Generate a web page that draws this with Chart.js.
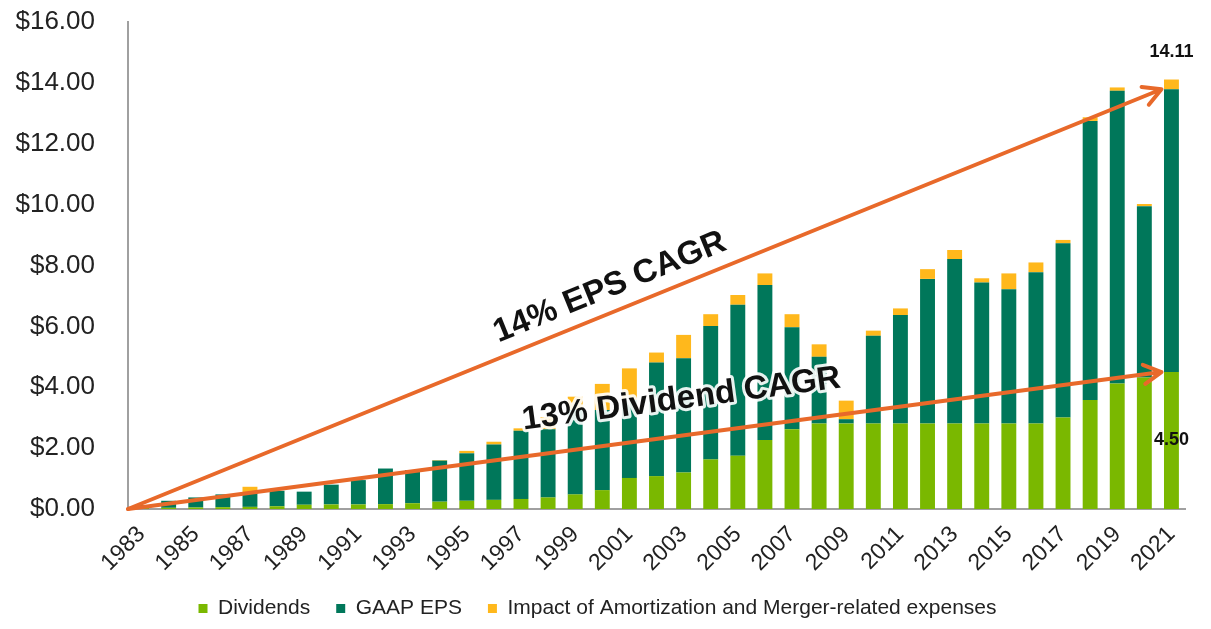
<!DOCTYPE html>
<html>
<head>
<meta charset="utf-8">
<script src="https://cdn.jsdelivr.net/npm/chart.js@4.4.1/dist/chart.umd.min.js"></script>
<style>
  body { margin: 0; background: #fff; }
  #wrap { width: 1211px; height: 629px; }
</style>
</head>
<body>
<div id="wrap"><canvas id="chart"></canvas></div>
<script>
// values ($ per share)
const years = ['1983', '1984', '1985', '1986', '1987', '1988', '1989', '1990', '1991', '1992',
    '1993', '1994', '1995', '1996', '1997', '1998', '1999', '2000', '2001', '2002',
    '2003', '2004', '2005', '2006', '2007', '2008', '2009', '2010', '2011', '2012',
    '2013', '2014', '2015', '2016', '2017', '2018', '2019', '2020', '2021'];

const dividends = [0.03, 0.04, 0.05, 0.06, 0.07, 0.09, 0.14, 0.15, 0.15, 0.16,
    0.19, 0.24, 0.27, 0.30, 0.33, 0.38, 0.48, 0.62, 1.02, 1.08,
    1.20, 1.63, 1.75, 2.27, 2.62, 2.81, 2.81, 2.81, 2.81, 2.81,
    2.81, 2.81, 2.81, 2.81, 3.01, 3.58, 4.12, 4.32, 4.50];

// GAAP EPS (top of the dark green part)
const gaapEps = [0.13, 0.27, 0.38, 0.48, 0.55, 0.60, 0.57, 0.80, 0.95, 1.33,
    1.28, 1.59, 1.83, 2.12, 2.57, 2.62, 3.25, 3.25, 3.58, 4.81,
    4.95, 6.01, 6.71, 7.36, 5.97, 5.00, 2.95, 5.69, 6.37, 7.56,
    8.21, 7.44, 7.22, 7.78, 8.73, 12.75, 13.74, 9.95, 13.79];

// Impact of amortization and merger-related expenses
const impact = [0, 0, 0, 0, 0.18, 0, 0, 0, 0, 0,
    0, 0.02, 0.08, 0.09, 0.08, 0.40, 0.44, 0.86, 1.04, 0.33,
    0.77, 0.39, 0.32, 0.38, 0.43, 0.41, 0.61, 0.17, 0.22, 0.32,
    0.30, 0.14, 0.52, 0.32, 0.11, 0.12, 0.11, 0.07, 0.32];

const epsCagrText = '14% EPS CAGR';
const divCagrText = '13% Dividend CAGR';

const green = '#7ab800';
const darkGreen = '#00775a';
const gold = '#ffb81c';
const orange = '#e8692a';
const fontFamily = '"Liberation Sans", Arial, sans-serif';

function drawArrow(ctx, x0, y0, x1, y1) {
    const a = Math.atan2(y1 - y0, x1 - x0);
    const head = 20;
    ctx.save();
    ctx.strokeStyle = orange;
    ctx.lineWidth = 4;
    ctx.lineCap = 'round';
    ctx.lineJoin = 'round';
    ctx.beginPath();
    ctx.moveTo(x0, y0);
    ctx.lineTo(x1, y1);
    ctx.moveTo(x1 - head * Math.cos(a - 0.5), y1 - head * Math.sin(a - 0.5));
    ctx.lineTo(x1, y1);
    ctx.lineTo(x1 - head * Math.cos(a + 0.5), y1 - head * Math.sin(a + 0.5));
    ctx.stroke();
    ctx.restore();
}

function textOnLine(ctx, text, x0, y0, x1, y1, t, offset) {
    const a = Math.atan2(y1 - y0, x1 - x0);
    const cx = x0 + (x1 - x0) * t + Math.sin(a) * offset;
    const cy = y0 + (y1 - y0) * t - Math.cos(a) * offset;
    ctx.save();
    ctx.translate(cx, cy);
    ctx.rotate(a);
    ctx.font = 'bold 33px ' + fontFamily;
    ctx.textAlign = 'center';
    ctx.textBaseline = 'middle';
    ctx.lineJoin = 'round';
    ctx.strokeStyle = 'rgba(255,255,255,0.9)';
    ctx.lineWidth = 6;
    ctx.strokeText(text, 0, 0);
    ctx.fillStyle = '#111';
    ctx.fillText(text, 0, 0);
    ctx.restore();
}

const annotations = {
    id: 'annotations',
    afterDatasetsDraw(chart) {
        const { ctx, chartArea, scales: { x, y } } = chart;
        const last = years.length - 1;
        const x0 = chartArea.left;
        const y0 = y.getPixelForValue(0);
        const xEnd = x.getPixelForValue(last) - 10;
        const yEps = y.getPixelForValue(gaapEps[last]);
        const yDiv = y.getPixelForValue(dividends[last]);

        drawArrow(ctx, x0, y0, xEnd, yEps);
        drawArrow(ctx, x0, y0, xEnd, yDiv);
        textOnLine(ctx, epsCagrText, x0, y0, xEnd, yEps, 0.475, 24);
        textOnLine(ctx, divCagrText, x0, y0, xEnd, yDiv, 0.54, 36);

        // value labels on the last bar
        const xl = x.getPixelForValue(last);
        const total = gaapEps[last] + impact[last];
        ctx.save();
        ctx.font = 'bold 18px ' + fontFamily;
        ctx.fillStyle = '#111';
        ctx.textAlign = 'center';
        ctx.textBaseline = 'middle';
        ctx.fillText(total.toFixed(2), xl, y.getPixelForValue(total) - 27);
        ctx.fillText(dividends[last].toFixed(2), xl, (y0 + yDiv) / 2);
        ctx.restore();
    }
};

const ctx = document.getElementById('chart').getContext('2d');
new Chart(ctx, {
    type: 'bar',
    data: {
        labels: years,
        datasets: [{
            label: 'Dividends',
            data: dividends,
            backgroundColor: green
        }, {
            label: 'GAAP EPS',
            data: gaapEps.map((v, i) => v - dividends[i]),
            backgroundColor: darkGreen
        }, {
            label: 'Impact of Amortization and Merger-related expenses',
            data: impact,
            backgroundColor: gold
        }]
    },
    options: {
        responsive: true,
        maintainAspectRatio: false,
        animation: false,
        barPercentage: 0.55,
        categoryPercentage: 1.0,
        layout: { padding: { left: 10, right: 26, top: 22, bottom: 0 } },
        plugins: {
            legend: {
                position: 'bottom',
                labels: {
                    boxWidth: 9,
                    boxHeight: 9,
                    padding: 26,
                    color: '#222',
                    font: { family: fontFamily, size: 21 }
                }
            },
            tooltip: { enabled: false }
        },
        scales: {
            x: {
                stacked: true,
                grid: { display: false },
                border: { display: true, color: '#a0a0a0', width: 2 },
                ticks: {
                    autoSkip: false,
                    minRotation: 45,
                    maxRotation: 45,
                    color: '#222',
                    padding: 4,
                    font: { family: fontFamily, size: 23 },
                    callback: function(value, index) {
                        return index % 2 === 0 ? years[index] : '';
                    }
                },
                afterFit(scale) { scale.height = 63; }
            },
            y: {
                stacked: true,
                min: 0,
                max: 16,
                grid: { display: false, tickLength: 33 },
                border: { display: true, color: '#a0a0a0', width: 2 },
                ticks: {
                    stepSize: 2,
                    color: '#222',
                    padding: 0,
                    font: { family: fontFamily, size: 26 },
                    callback: value => '$' + value.toFixed(2)
                },
                afterFit(scale) { scale.width = 118; }
            }
        }
    },
    plugins: [annotations]
});
</script>
</body>
</html>
